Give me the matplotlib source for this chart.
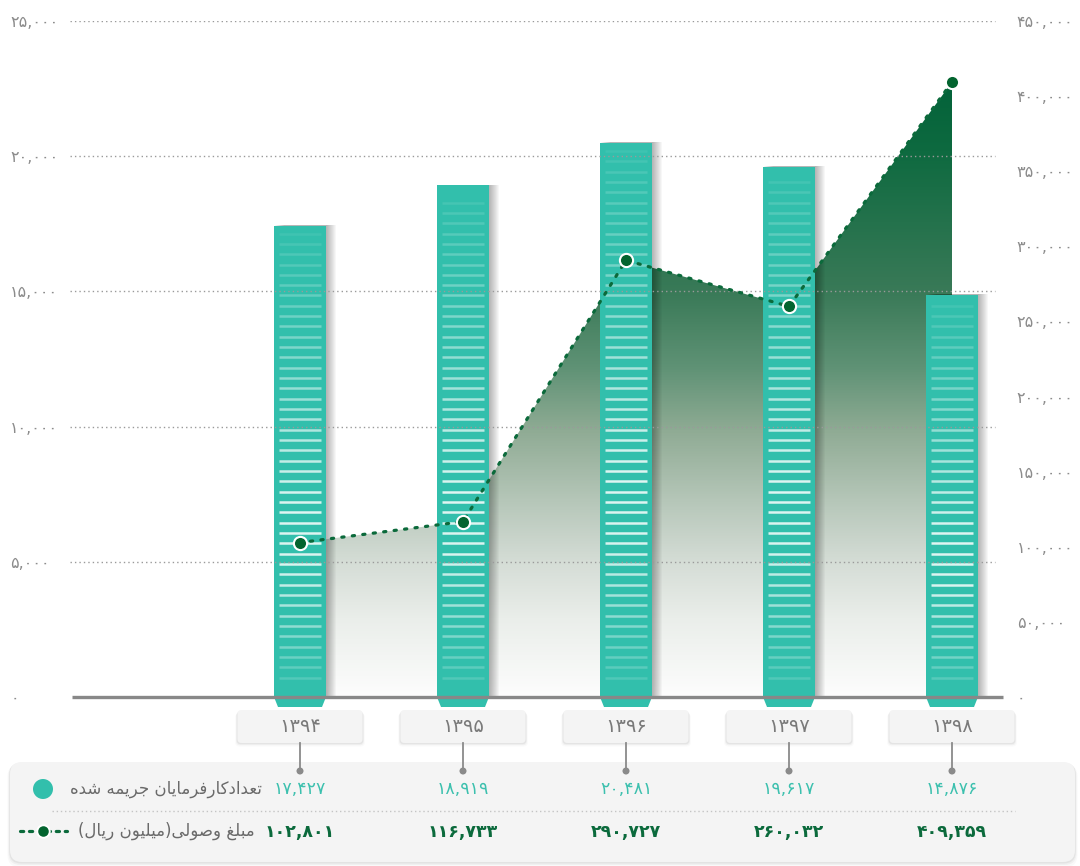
import numpy as np
import matplotlib
matplotlib.use("Agg")
import matplotlib.pyplot as plt
from matplotlib import transforms
from matplotlib.patches import FancyBboxPatch, Polygon, Circle
from matplotlib.lines import Line2D
from matplotlib.colors import LinearSegmentedColormap
import matplotlib.patheffects as pe

# ---------------- data ----------------
years = ["1394", "1395", "1396", "1397", "1398"]
employers = [17427, 18919, 20481, 19617, 14876]          # left axis (bars)
collected = [102801, 116733, 290727, 260032, 409359]     # right axis (area/line)
left_ticks = [0, 5000, 10000, 15000, 20000, 25000]
right_ticks = [0, 50000, 100000, 150000, 200000, 250000, 300000, 350000, 400000, 450000]
label_count = "تعدادکارفرمایان جریمه شده"
label_money = "مبلغ وصولی(میلیون ریال)"

plt.rcParams["font.family"] = ["DejaVu Sans"]

TEAL = "#32bfac"
GRAY_TXT = "#8c8c8c"

FA_DIGITS = str.maketrans("0123456789", "۰۱۲۳۴۵۶۷۸۹")


def fa_num(v, comma=True):
    s = f"{int(v):,}" if comma else str(v)
    return s.translate(FA_DIGITS)


# minimal Persian shaping (presentation forms) + visual reordering
FORMS = {
    "ا": ("\uFE8D", "\uFE8E", None, None),
    "ب": ("\uFE8F", "\uFE90", "\uFE91", "\uFE92"),
    "ت": ("\uFE95", "\uFE96", "\uFE97", "\uFE98"),
    "ج": ("\uFE9D", "\uFE9E", "\uFE9F", "\uFEA0"),
    "د": ("\uFEA9", "\uFEAA", None, None),
    "ر": ("\uFEAD", "\uFEAE", None, None),
    "ش": ("\uFEB5", "\uFEB6", "\uFEB7", "\uFEB8"),
    "ص": ("\uFEB9", "\uFEBA", "\uFEBB", "\uFEBC"),
    "ع": ("\uFEC9", "\uFECA", "\uFECB", "\uFECC"),
    "غ": ("\uFECD", "\uFECE", "\uFECF", "\uFED0"),
    "ف": ("\uFED1", "\uFED2", "\uFED3", "\uFED4"),
    "ل": ("\uFEDD", "\uFEDE", "\uFEDF", "\uFEE0"),
    "م": ("\uFEE1", "\uFEE2", "\uFEE3", "\uFEE4"),
    "ن": ("\uFEE5", "\uFEE6", "\uFEE7", "\uFEE8"),
    "ه": ("\uFEE9", "\uFEEA", "\uFEEB", "\uFEEC"),
    "و": ("\uFEED", "\uFEEE", None, None),
    "ی": ("\uFBFC", "\uFBFD", "\uFBFE", "\uFBFF"),
    "ک": ("\uFB8E", "\uFB8F", "\uFB90", "\uFB91"),
}


def fa_text(s):
    s = s.replace("\u064A", "\u06CC").replace("\u0643", "\u06A9")
    out = []
    for i, ch in enumerate(s):
        if ch not in FORMS:
            out.append(ch)
            continue
        prev = s[i - 1] if i > 0 else ""
        nxt = s[i + 1] if i + 1 < len(s) else ""
        jp = prev in FORMS and FORMS[prev][2] is not None
        jn = FORMS[ch][2] is not None and nxt in FORMS
        f = FORMS[ch]
        if jp and jn:
            out.append(f[3])
        elif jp:
            out.append(f[1])
        elif jn:
            out.append(f[2])
        else:
            out.append(f[0])
    vis = "".join(reversed(out))
    return vis.translate(str.maketrans("()", ")("))


# ---------------- figure / axes ----------------
W, H = 1080, 866
fig = plt.figure(figsize=(W / 100, H / 100), dpi=100)
fig.patch.set_facecolor("white")
px = transforms.Affine2D().scale(1 / 100, -1 / 100).translate(0, H / 100) + fig.dpi_scale_trans

rect = [70 / W, 1 - 697 / H, 930 / W, 676 / H]
xlim = (-230 / 163, 4 + 48 / 163)
x = np.arange(len(years))

axA = fig.add_axes(rect)   # gradient area (right scale)
axB = fig.add_axes(rect)   # bars (left scale)
axG = fig.add_axes(rect)   # grid + left ticks (left scale)
axL = fig.add_axes(rect)   # line + right ticks (right scale)
for ax in (axA, axB, axG, axL):
    ax.set_xlim(*xlim)
    ax.patch.set_alpha(0)
    for s in ax.spines.values():
        s.set_visible(False)
    ax.set_xticks([])
    ax.tick_params(length=0)
axA.set_ylim(0, 450000)
axL.set_ylim(0, 450000)
axB.set_ylim(0, 25000)
axG.set_ylim(0, 25000)
axA.set_yticks([])
axB.set_yticks([])

# ---- gradient area ----
poly = axA.fill_between(x, collected, 0, facecolor="none", edgecolor="none")
stops = [(0.0, "#fdfdfd"), (0.114, "#eaeeea"), (0.198, "#d5ddd6"), (0.291, "#b5c6b8"),
         (0.394, "#8fab94"), (0.488, "#5f9275"), (0.597, "#3a7a58"), (0.808, "#0e6a40"),
         (0.9, "#04633a"), (1.0, "#02613a")]
cmap = LinearSegmentedColormap.from_list("grad", stops)
grad = np.linspace(0, 1, 512).reshape(-1, 1)
im = axA.imshow(grad, cmap=cmap, origin="lower", aspect="auto",
                extent=(xlim[0], xlim[1], 0, 450000), interpolation="bilinear", zorder=1)
im.set_clip_path(poly.get_paths()[0], transform=axA.transData)
axA.set_xlim(*xlim)
axA.set_ylim(0, 450000)

# ---- bars ----
bw = 52 / 163
shadow = [pe.SimplePatchShadow(offset=(0.75 * k, 0.5), shadow_rgbFace="black", alpha=0.03)
          for k in range(1, 11)]
bars = axB.bar(x, employers, width=bw, color=TEAL, zorder=2, linewidth=0)
for b in bars:
    b.set_path_effects(shadow + [pe.Normal()])

upp = 25000 / 676  # value units per pixel (left axis)
for xi, v in zip(x, employers):
    # tapered foot below the baseline
    foot = Polygon([(xi - bw / 2, 0), (xi + bw / 2, 0),
                    (xi + bw / 2 - 4 / 163, -10 * upp), (xi - bw / 2 + 4 / 163, -10 * upp)],
                   closed=True, facecolor=TEAL, edgecolor="none", clip_on=False, zorder=2)
    axB.add_patch(foot)
    # white stripes
    k = np.arange(0, 80)
    ys = (19.3 + 10.33 * k) * upp
    ys = ys[ys < v - 7 * upp]
    t = 1 - ys / v
    a = np.interp(t, [0, 0.05, 0.3, 0.6, 0.72, 0.8, 0.9, 1.0],
                  [0.04, 0.12, 0.42, 0.85, 0.82, 0.6, 0.32, 0.05])
    cols = [(1, 1, 1, ai) for ai in a]
    axB.hlines(ys, xi - bw / 2 + 5 / 163, xi + bw / 2 - 5 / 163, colors=cols, lw=1.8, zorder=3)

# ---- grid + baseline + left ticks ----
axG.hlines(left_ticks[1:], xlim[0], xlim[1] - 5 / 163, colors="#9a9a9a",
           linestyles=(0, (1, 2.2)), lw=1.0)
axG.plot([0.002, 1.003], [0, 0], transform=axG.transAxes, color="#888888", lw=2.4,
         clip_on=False, solid_capstyle="butt", zorder=5)
axG.set_yticks(left_ticks)
axG.set_yticklabels([fa_num(v) for v in left_ticks], color=GRAY_TXT, fontsize=11.5)
axG.tick_params(axis="y", pad=43)
for lbl in axG.get_yticklabels():
    lbl.set_horizontalalignment("left")

# ---- line + right ticks ----
axL.plot(x, collected, color="#0b6a3b", lw=2.3, linestyle=(0, (0.7, 2.6)),
         dash_capstyle="round", zorder=4)
axL.plot(x, collected, linestyle="none", marker="o", markersize=9.5,
         markerfacecolor="#03642f", markeredgecolor="white", markeredgewidth=1.5, zorder=5)
axL.yaxis.tick_right()
axL.set_yticks(right_ticks)
axL.set_yticklabels([fa_num(v) for v in right_ticks], color=GRAY_TXT, fontsize=11.5)
axL.tick_params(axis="y", pad=12)
for lbl in axL.get_yticklabels():
    lbl.set_horizontalalignment("left")

# ---------------- bottom table ----------------
cat_px = axB.transData.transform(np.column_stack([x, np.zeros(len(x))]))[:, 0]

# panel
for d, al in [(5, 0.025), (3, 0.035), (1.5, 0.05)]:
    fig.add_artist(FancyBboxPatch((10 - d / 2, 762 + d / 2), 1065 + d, 100 + d / 2,
                                  boxstyle="round,pad=0,rounding_size=12",
                                  fc=(0, 0, 0, al), ec="none", transform=px, zorder=1))
fig.add_artist(FancyBboxPatch((10, 762), 1065, 100, boxstyle="round,pad=0,rounding_size=12",
                              fc="#f4f4f4", ec="none", transform=px, zorder=1.1))

# year boxes + connectors
for cx, yr, v1, v2 in zip(cat_px, years, employers, collected):
    for d, al in [(7, 0.02), (4.5, 0.035), (2.5, 0.05)]:
        fig.add_artist(FancyBboxPatch((cx - 62.5 - d / 3, 710 + d / 2), 125 + 2 * d / 3, 33,
                                      boxstyle="round,pad=0,rounding_size=4",
                                      fc=(0, 0, 0, al), ec="none", transform=px, zorder=1.2))
    fig.add_artist(FancyBboxPatch((cx - 62.5, 710), 125, 33, boxstyle="round,pad=0,rounding_size=4",
                                  fc="#f4f4f4", ec="none", transform=px, zorder=1.3))
    fig.text(cx, 727, yr.translate(FA_DIGITS), transform=px, ha="center", va="center",
             fontsize=14, color="#7a7a7a", zorder=2)
    fig.add_artist(Line2D([cx, cx], [743, 771], color="#8a8a8a", lw=1.3, transform=px, zorder=2))
    fig.add_artist(Circle((cx, 771), 3.5, fc="#8a8a8a", ec="none", transform=px, zorder=2))
    fig.text(cx, 789, fa_num(v1), transform=px, ha="center", va="center",
             fontsize=12.5, color="#3cc0ae", zorder=2)
    fig.text(cx, 832, fa_num(v2), transform=px, ha="center", va="center",
             fontsize=12.5, color="#0b6a3c", fontweight="bold", zorder=2)

# separator
fig.add_artist(Line2D([52, 1015], [811, 811], color="#c4c4c4", lw=1.0,
                      linestyle=(0, (1, 2)), transform=px, zorder=2))

# row labels / legend keys
fig.add_artist(Circle((43, 789), 10, fc=TEAL, ec="none", transform=px, zorder=2))
fig.text(262, 789, fa_text(label_count), transform=px, ha="right", va="center",
         fontsize=12, color="#6a6a6a", zorder=2)
fig.add_artist(Line2D([20, 67], [831, 831], color="#0b6a3b", lw=2.3,
                      linestyle=(0, (1.0, 1.8)), dash_capstyle="round", transform=px, zorder=2))
fig.add_artist(Line2D([43], [831], marker="o", markersize=9, markerfacecolor="#03642f",
                      markeredgecolor="white", markeredgewidth=1.4, linestyle="none",
                      transform=px, zorder=3))
fig.text(255, 831, fa_text(label_money), transform=px, ha="right", va="center",
         fontsize=12, color="#6a6a6a", zorder=2)

fig.savefig("out.png", dpi=100, facecolor="white")
